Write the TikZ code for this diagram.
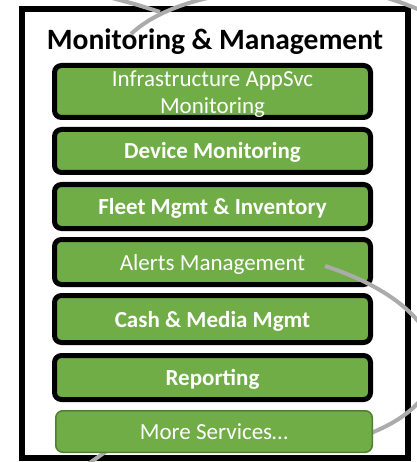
\documentclass[tikz,border=0pt]{standalone}
\usepackage{fontspec}
\setmainfont{Carlito}
\usepackage{tikz}
\definecolor{svcgreen}{HTML}{70AD47}
\definecolor{edgegreen}{HTML}{507E32}
\definecolor{linkgray}{HTML}{ABABAB}
\tikzset{
  svc/.style={draw=black, line width=5pt, rounded corners=7pt, fill=svcgreen,
              text=white, minimum width=316pt, inner sep=0pt, align=center,
              text height=17pt, text depth=1pt,
              font=\fontsize{23}{27}\selectfont},
  svcbold/.style={svc, font=\fontsize{23}{27}\selectfont\bfseries},
  more/.style={svc, draw=edgegreen, line width=1.5pt, minimum width=316.5pt},
  link/.style={draw=linkgray, line width=4pt}
}

\begin{document}
\begin{tikzpicture}[x=1pt, y=-1pt]
        \useasboundingbox (0,0) rectangle (416,462);

        % --- Outer frame and heading
        \node[draw=black, line width=6pt, fill=white, minimum width=386pt,
              minimum height=449pt, inner sep=0pt] (frame) at (215,233.5) {};
        \node[anchor=base, font=\fontsize{29.5}{31}\selectfont\bfseries] (title)
              at (215,50) {Monitoring \& Management};

        % --- Services
        \node[svc, minimum height=52pt, text height=45pt] (infra) at (212.5,91.5)
              {Infrastructure AppSvc\\Monitoring};
        \node[svcbold, minimum height=43pt] (device) at (212.5,151) {Device Monitoring};
        \node[svcbold, minimum height=44pt] (fleet) at (212.5,206.5) {Fleet Mgmt \& Inventory};
        \node[svc, minimum height=45pt] (alerts) at (212.5,262) {Alerts Management};
        \node[svcbold, minimum height=47pt] (cash) at (212.5,319) {Cash \& Media Mgmt};
        \node[svcbold, minimum height=44pt] (report) at (212.5,377.5) {Reporting};

        % --- Links leaving the frame
        \coordinate (topa) at (108,-3);
        \coordinate (topb) at (160,12);
        \coordinate (topc) at (131,34);
        \coordinate (topd) at (212,-3);
        \coordinate (righta) at (384,-3);
        \coordinate (rightb) at (420,10);
        \coordinate (alertsend) at (325,266);
        \coordinate (loopend) at (360,437);
        \coordinate (lowa) at (84,467);
        \coordinate (lowb) at (108,450);
        \draw[link] (topa) .. controls (135,4) .. (topb);
        \draw[link] (topc) .. controls (148,18) and (175,5) .. (topd);
        \draw[link] (righta) .. controls (400,2) .. (rightb);
        \draw[link] (alertsend) .. controls (460,310) and (470,400) .. (loopend);
        \draw[link] (lowa) -- (lowb);

        \node[more, minimum height=41.5pt] (moresvc) at (214,431.5) {More Services…};

\end{tikzpicture}
\end{document}
